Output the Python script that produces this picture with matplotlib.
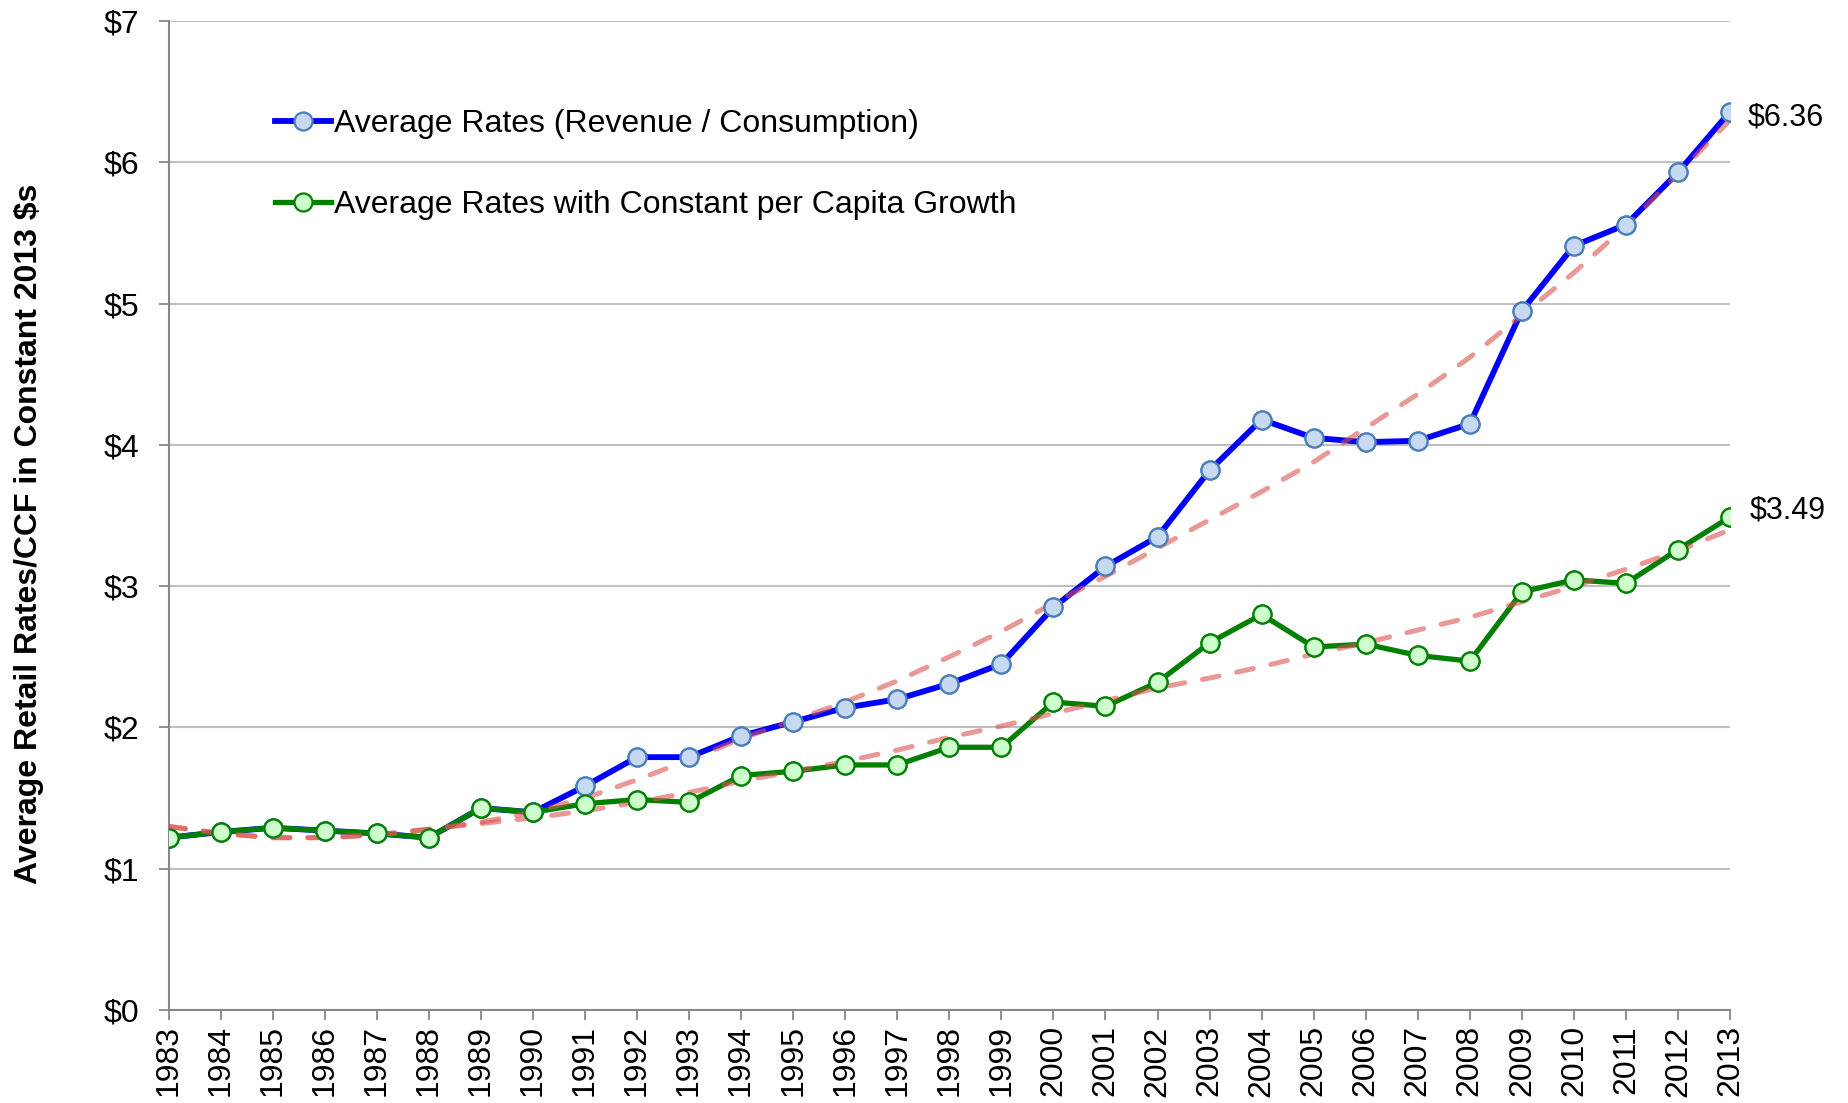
import numpy as np
import matplotlib.pyplot as plt

plt.rcParams['font.family'] = ['Liberation Sans', 'DejaVu Sans']

years = list(range(1983, 2014))

avg_rates = [1.22, 1.26, 1.29, 1.27, 1.25, 1.22, 1.43, 1.40, 1.585, 1.79,
             1.79, 1.94, 2.04, 2.14, 2.20, 2.31, 2.45, 2.85, 3.14, 3.35,
             3.82, 4.18, 4.05, 4.02, 4.03, 4.15, 4.95, 5.41, 5.56, 5.93,
             6.36]
avg_rates_trend = [1.30, 1.25, 1.22, 1.22, 1.24, 1.28, 1.33, 1.40, 1.50, 1.63,
                   1.77, 1.92, 2.05, 2.18, 2.33, 2.50, 2.68, 2.88, 3.07, 3.27,
                   3.47, 3.67, 3.88, 4.12, 4.36, 4.62, 4.92, 5.22, 5.55, 5.92,
                   6.30]

const_rates = [1.22, 1.26, 1.29, 1.27, 1.25, 1.22, 1.43, 1.40, 1.46, 1.49,
               1.47, 1.66, 1.69, 1.735, 1.735, 1.86, 1.86, 2.18, 2.15, 2.32,
               2.60, 2.80, 2.57, 2.59, 2.51, 2.47, 2.96, 3.045, 3.02, 3.26,
               3.49]
const_rates_trend = [1.30, 1.25, 1.22, 1.22, 1.24, 1.28, 1.32, 1.36, 1.41, 1.47,
                     1.54, 1.62, 1.69, 1.76, 1.84, 1.93, 2.01, 2.10, 2.19, 2.28,
                     2.35, 2.43, 2.52, 2.60, 2.69, 2.78, 2.89, 3.00, 3.12, 3.25,
                     3.40]

label_avg = "Average Rates (Revenue / Consumption)"
label_const = "Average Rates with Constant per Capita Growth"

fig = plt.figure(figsize=(18.48, 11.03), dpi=100)
ax = fig.add_axes([0.0912, 0.0843, 0.845, 0.8965])

trend_kw = dict(color='#d9534f', alpha=0.6, lw=3.6, dashes=(3.4, 3.6),
                dash_capstyle='round', zorder=5)
ms = 13

# data lines
ax.plot(years, avg_rates, '-o', color='#0000ff', lw=4.2, ms=ms,
        mfc='#c6d9f1', mec='#4a7ebb', mew=1.6, label=label_avg, zorder=3)
ax.plot(years, const_rates, '-o', color='#008000', lw=3.8, ms=ms,
        mfc='#ccffcc', mec='#008000', mew=1.6, label=label_const, zorder=4)

# trendlines
ax.plot(years, avg_rates_trend, **trend_kw)
ax.plot(years, const_rates_trend, **trend_kw)

# markers on top
ax.plot(years, avg_rates, 'o', ms=ms, mfc='#c6d9f1', mec='#4a7ebb', mew=1.6, zorder=6)
ax.plot(years, const_rates, 'o', ms=ms, mfc='#ccffcc', mec='#008000', mew=1.6, zorder=7)

ax.annotate("$%.2f" % avg_rates[-1], (years[-1], avg_rates[-1]), xytext=(13, -4),
            textcoords='offset points', fontsize=22, va='center', ha='left')
ax.annotate("$%.2f" % const_rates[-1], (years[-1], const_rates[-1]), xytext=(14, 5),
            textcoords='offset points', fontsize=22, va='center', ha='left')

ax.set_xlim(1983, 2013)
ax.set_ylim(0, 7)
ax.set_xticks(years)
ax.set_xticklabels([str(y) for y in years], rotation=90, fontsize=23)
ax.set_yticks(range(0, 8))
ax.set_yticklabels(["$%d" % v for v in range(0, 8)], fontsize=23)
ax.tick_params(axis='both', direction='out', length=7, width=1.3, color='#888888')
ax.tick_params(axis='x', pad=4)
ax.tick_params(axis='y', pad=14)

ax.grid(axis='y', color='#bfbfbf', lw=1.5)
ax.set_axisbelow(True)
for s in ['top', 'right']:
    ax.spines[s].set_visible(False)
for s in ['left', 'bottom']:
    ax.spines[s].set_color('#888888')
    ax.spines[s].set_linewidth(1.5)

ax.set_ylabel("Average Retail Rates/CCF in Constant 2013 $s", fontsize=23,
              fontweight='bold')
ax.yaxis.set_label_coords(-0.080, 0.482)

leg = ax.legend(loc='upper left', bbox_to_anchor=(0.050, 0.940), frameon=False,
                fontsize=23, handlelength=1.75, handletextpad=0.1,
                labelspacing=1.58)

fig.savefig("out.png", dpi=100)
